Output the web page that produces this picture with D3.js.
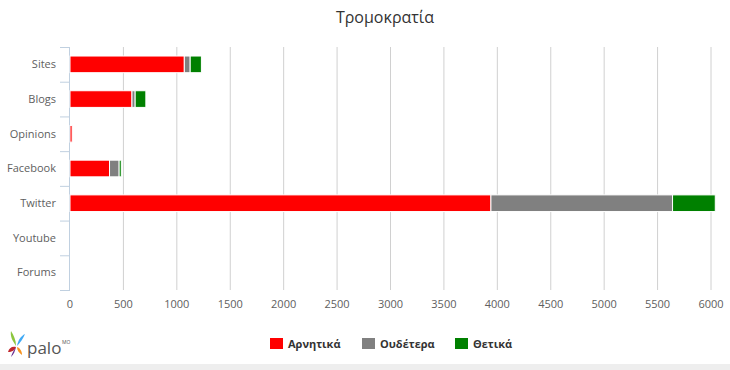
<!DOCTYPE html>
<html>
<head>
<meta charset="utf-8">
<script src="https://cdn.jsdelivr.net/npm/d3@7"></script>
<style>
  body { margin: 0; background: #fff; }
  svg { font-family: "Open Sans", "DejaVu Sans", sans-serif; }
</style>
</head>
<body>
<svg id="chart"></svg>
<script>
// categories and series
const categories = ["Sites", "Blogs", "Opinions", "Facebook", "Twitter", "Youtube", "Forums"];
const negative = [1070, 580, 20, 370, 3940, 0, 0];
const neutral = [55, 30, 0, 90, 1700, 0, 0];
const positive = [105, 100, 0, 20, 400, 0, 0];
const seriesNames = ["Αρνητικά", "Ουδέτερα", "Θετικά"];
const seriesColors = ["#ff0000", "#808080", "#008000"];
const xTicks = [0, 500, 1000, 1500, 2000, 2500, 3000, 3500, 4000, 4500, 5000, 5500, 6000];

const W = 730, H = 370;
const margin = { top: 47, right: 19, bottom: 80, left: 70 };
const width = W - margin.left - margin.right;
const height = H - margin.top - margin.bottom;

const svg = d3.select("#chart").attr("width", W).attr("height", H);

// bottom grey strip
svg.append("rect").attr("x", 0).attr("y", H - 6).attr("width", W).attr("height", 6).attr("fill", "#eeeeee");

svg.append("text")
  .attr("x", 385).attr("y", 23)
  .attr("text-anchor", "middle")
  .attr("font-size", 16)
  .attr("fill", "#333")
  .text("Τρομοκρατία");

const g = svg.append("g").attr("transform", `translate(${margin.left},${margin.top})`);

const x = d3.scaleLinear().domain([0, 6000]).range([0, width]);
const y = d3.scaleBand().domain(categories).range([0, height]).paddingInner(0.52).paddingOuter(0.26);
const yb = d3.scaleBand().domain(categories).range([0, height]);

// grid
g.append("g").selectAll("line").data(xTicks.slice(1)).join("line")
  .attr("x1", d => x(d)).attr("x2", d => x(d))
  .attr("y1", 0).attr("y2", height)
  .attr("stroke", "#d0d0d0").attr("stroke-width", 1);

// y axis line + ticks at band edges
g.append("line").attr("x1", -0.5).attr("x2", -0.5).attr("y1", 0).attr("y2", height)
  .attr("stroke", "#c0d0e0");
g.append("g").selectAll("line").data(categories.concat(["end"])).join("line")
  .attr("x1", -10).attr("x2", 0)
  .attr("y1", (d, i) => i < categories.length ? yb(d) + 0.5 : height + 0.5)
  .attr("y2", (d, i) => i < categories.length ? yb(d) + 0.5 : height + 0.5)
  .attr("stroke", "#c0d0e0");

g.append("g").selectAll("text").data(categories).join("text")
  .attr("x", -14)
  .attr("y", d => yb(d) + yb.bandwidth() / 2)
  .attr("dy", "0.35em")
  .attr("text-anchor", "end")
  .attr("font-size", 11)
  .attr("fill", "#606060")
  .text(d => d);

// x labels
g.append("g").selectAll("text").data(xTicks).join("text")
  .attr("x", d => x(d))
  .attr("y", height + 18)
  .attr("text-anchor", "middle")
  .attr("font-size", 11)
  .attr("fill", "#606060")
  .text(d => d);

// stacked bars
const rows = categories.map((c, i) => ({ cat: c, a: negative[i], b: neutral[i], c2: positive[i] }));
const stack = d3.stack().keys(["a", "b", "c2"])(rows);
g.append("g").selectAll("g").data(stack).join("g")
  .attr("fill", (d, i) => seriesColors[i])
  .selectAll("rect").data(d => d).join("rect")
  .attr("x", d => x(d[0]))
  .attr("y", d => y(d.data.cat))
  .attr("width", d => Math.max(0, x(d[1]) - x(d[0])))
  .attr("height", y.bandwidth())
  .attr("stroke", "#fff").attr("stroke-width", 1)
  .attr("display", d => d[1] - d[0] > 0 ? null : "none");

// legend
const legendX = [270, 362, 455];
const legend = svg.append("g").selectAll("g").data(seriesNames).join("g")
  .attr("transform", (d, i) => `translate(${legendX[i]},338)`);
legend.append("rect").attr("width", 13).attr("height", 11).attr("fill", (d, i) => seriesColors[i]);
legend.append("text").attr("x", 18).attr("y", 10)
  .attr("font-size", 11).attr("font-weight", "bold").attr("fill", "#333")
  .text(d => d);

// palo logo
const logo = svg.append("g").attr("transform", "translate(8,330)");
logo.append("path").attr("d", "M8,16 C4,10 2,6 3,1 C6,6 8,10 8,16Z").attr("fill", "#8cc63f");
logo.append("path").attr("d", "M9,16 C10,10 13,6 17,4 C15,9 12,13 9,16Z").attr("fill", "#3fa9f5");
logo.append("path").attr("d", "M8,17 C4,16 1,18 0,22 C4,22 7,20 8,17Z").attr("fill", "#c1272d");
logo.append("path").attr("d", "M9,17 C12,18 14,21 14,25 C11,23 9,20 9,17Z").attr("fill", "#f7931e");
logo.append("path").attr("d", "M8,17 C7,21 6,24 3,27 C4,23 6,20 8,17Z").attr("fill", "#662d91");
logo.append("text").attr("x", 19).attr("y", 24).attr("font-size", 17).attr("fill", "#555").text("palo");
logo.append("text").attr("x", 54).attr("y", 14).attr("font-size", 5).attr("fill", "#555").text("ΜΟ");
</script>
</body>
</html>
